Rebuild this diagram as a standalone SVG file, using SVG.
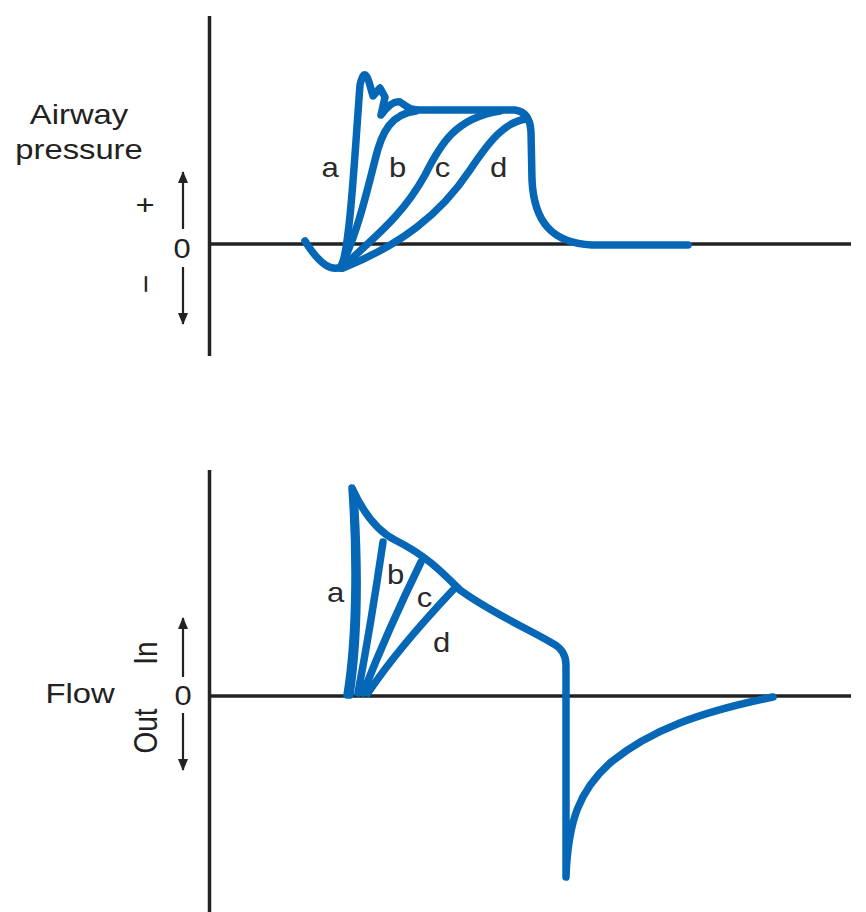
<svg xmlns="http://www.w3.org/2000/svg" width="866" height="912" viewBox="0 0 866 912">
<style>
.axis{stroke:#222;stroke-width:3.5;fill:none}
.arr{stroke:#222;stroke-width:2.2;fill:none}
.wave{stroke:#0567b6;stroke-width:7.5;fill:none;stroke-linecap:round;stroke-linejoin:round}
.t{font-family:"Liberation Sans",Arial,sans-serif;font-size:28px;fill:#222}
.l{font-family:"Liberation Sans",Arial,sans-serif;font-size:27px;fill:#2a2a2a}
</style>
<defs>
<marker id="ah" viewBox="0 0 12 10" refX="11" refY="5" markerWidth="12" markerHeight="10" markerUnits="userSpaceOnUse" orient="auto">
<path d="M0,0 L12,5 L0,10 Z" fill="#222"/>
</marker>
</defs>
<rect width="866" height="912" fill="#fff"/>
<g id="axes">
<line class="axis" x1="209.5" y1="16" x2="209.5" y2="356"/>
<line class="axis" x1="209.5" y1="244" x2="851" y2="244"/>
<line class="axis" x1="209.5" y1="470" x2="209.5" y2="912"/>
<line class="axis" x1="209.5" y1="696" x2="851" y2="696"/>
</g>
<g id="pressure-labels">
<text class="t" text-anchor="middle" transform="translate(79,124) scale(1.17,1)">Airway</text>
<text class="t" text-anchor="middle" transform="translate(79,159) scale(1.17,1)">pressure</text>
<text class="t" text-anchor="middle" transform="translate(145,214) scale(1.17,1)">+</text>
<text class="t" text-anchor="middle" transform="translate(154,284) scale(1.17,1) rotate(-90)">–</text>
<text class="t" text-anchor="middle" transform="translate(182,258) scale(1.1,1)">0</text>
</g>
<g id="flow-labels">
<text class="t" text-anchor="middle" transform="translate(80,703) scale(1.17,1)">Flow</text>
<text class="t" text-anchor="middle" transform="translate(157,653) scale(1.2,1) rotate(-90)">In</text>
<text class="t" text-anchor="middle" transform="translate(157,731) scale(1.2,1) rotate(-90)">Out</text>
<text class="t" text-anchor="middle" transform="translate(183,705) scale(1.1,1)">0</text>
</g>
<g id="connectors">
<line class="arr" x1="183" y1="229" x2="183" y2="172" marker-end="url(#ah)"/>
<line class="arr" x1="183" y1="267" x2="183" y2="324" marker-end="url(#ah)"/>
<line class="arr" x1="183" y1="677" x2="183" y2="618" marker-end="url(#ah)"/>
<line class="arr" x1="183" y1="713" x2="183" y2="770" marker-end="url(#ah)"/>
</g>
<g id="pressure-curves">
<path class="wave" d="M305,241 C318,262 330,272 341,267 C350,250 355,150 360,85 Q364,66 369,82 L373,96 L380,88 L385,97 L381,115 Q392,100 400,102 L406,106 Q410,110 420,110 L515,110 Q530,112 531,132 L532,180 C534,222 552,243 592,245 L688,245"/>
<path class="wave" d="M340,268 C355,240 365,200 375,160 C382,130 392,114 416,111"/>
<path class="wave" d="M342,268 C370,240 400,220 425,175 C440,145 455,118 500,111"/>
<path class="wave" d="M343,268 C400,245 440,215 470,170 C490,140 505,122 526,119"/>
</g>
<g id="pressure-curve-labels">
<text class="l" text-anchor="middle" transform="translate(330,177) scale(1.15,1)">a</text>
<text class="l" text-anchor="middle" transform="translate(397.5,177) scale(1.15,1)">b</text>
<text class="l" text-anchor="middle" transform="translate(442.5,177) scale(1.15,1)">c</text>
<text class="l" text-anchor="middle" transform="translate(498.5,177) scale(1.15,1)">d</text>
</g>
<g id="flow-curves">
<path class="wave" d="M347,695 C356,640 357,560 352,488 C362,510 375,530 395,540 C425,555 440,570 460,590 C490,612 530,630 552,643 Q566,650 566,665 L566,877 C568,820 580,790 610,763 C650,730 700,712 773,697"/>
<path class="wave" d="M350,695 C358,640 359,570 354,495"/>
<path class="wave" d="M358,693 C368,640 376,590 383,542"/>
<path class="wave" d="M363,693 C380,650 400,605 421,562"/>
<path class="wave" d="M368,693 C390,660 420,625 453,590"/>
</g>
<g id="flow-curve-labels">
<text class="l" text-anchor="middle" transform="translate(335.5,602) scale(1.15,1)">a</text>
<text class="l" text-anchor="middle" transform="translate(395.5,584) scale(1.15,1)">b</text>
<text class="l" text-anchor="middle" transform="translate(424.5,607) scale(1.15,1)">c</text>
<text class="l" text-anchor="middle" transform="translate(441.5,652) scale(1.15,1)">d</text>
</g>
</svg>
